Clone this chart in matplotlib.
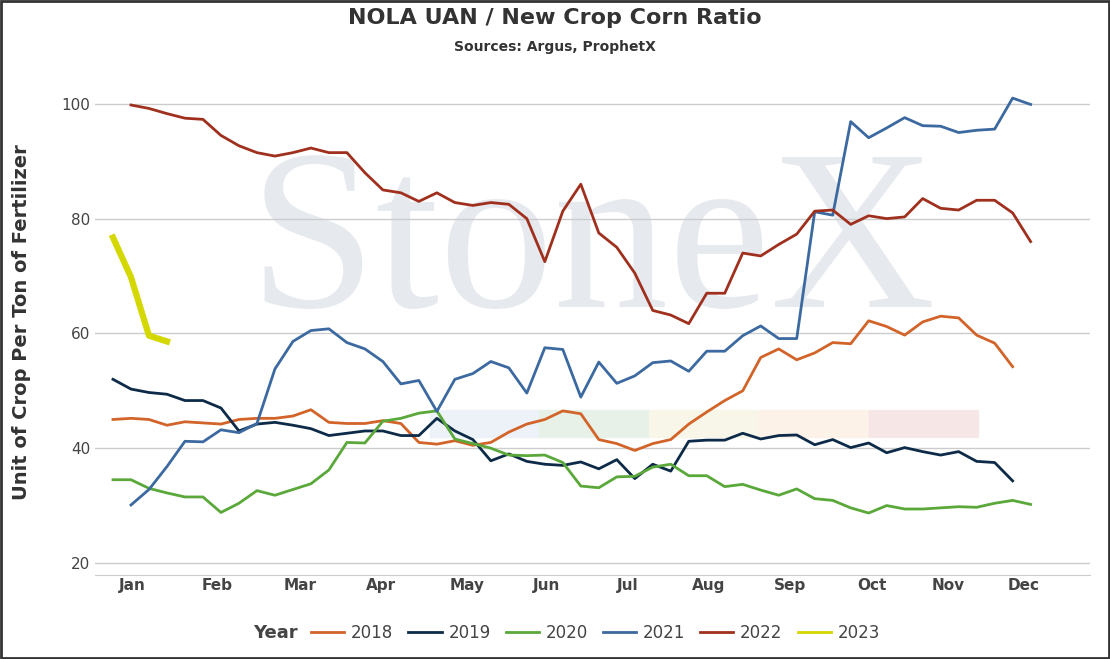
import matplotlib.pyplot as plt
import matplotlib.patches as mpatches
import numpy as np

months = ['Jan', 'Feb', 'Mar', 'Apr', 'May', 'Jun', 'Jul', 'Aug', 'Sep', 'Oct', 'Nov', 'Dec']
month_pos = [1.1, 5.8, 10.4, 14.9, 19.7, 24.1, 28.6, 33.1, 37.6, 42.2, 46.4, 50.6]

y2018 = [45, 45.2, 45, 44, 44.6, 44.4, 44.2, 45, 45.2, 45.2, 45.6, 46.7, 44.5, 44.3, 44.3, 44.8, 44.3,
         41, 40.7, 41.3, 40.5, 41, 42.8, 44.2, 45, 46.5, 46, 41.5, 40.8, 39.6, 40.8, 41.5, 44.2, 46.3,
         48.3, 50, 55.8, 57.3, 55.4, 56.6, 58.4, 58.2, 62.2, 61.2, 59.7, 62, 63, 62.7, 59.7, 58.3, 54.2]
y2019 = [52, 50.3, 49.7, 49.4, 48.3, 48.3, 47, 43, 44.2, 44.5, 44, 43.4, 42.2, 42.6, 43, 43, 42.2,
         42.2, 45.2, 43, 41.5, 37.8, 39, 37.7, 37.2, 37, 37.6, 36.4, 38, 34.7, 37.2, 36, 41.2, 41.4,
         41.4, 42.6, 41.6, 42.2, 42.3, 40.6, 41.5, 40.1, 40.9, 39.2, 40.1, 39.4, 38.8, 39.4, 37.7, 37.5, 34.3]
y2020 = [34.5, 34.5, 33, 32.2, 31.5, 31.5, 28.8, 30.4, 32.6, 31.8, 32.8, 33.8, 36.2, 41, 40.9, 44.7,
         45.2, 46.1, 46.5, 41.6, 40.8, 40, 38.8, 38.7, 38.8, 37.5, 33.4, 33.1, 35, 35.1, 36.7, 37.2,
         35.2, 35.2, 33.3, 33.7, 32.7, 31.8, 32.9, 31.2, 30.9, 29.6, 28.7, 30, 29.4, 29.4, 29.6, 29.8,
         29.7, 30.4, 30.9, 30.2]
y2021 = [30.1, 32.8, 36.8, 41.2, 41.1, 43.2, 42.7, 44.3, 53.8, 58.6, 60.5, 60.8, 58.4, 57.3, 55.1,
         51.2, 51.8, 46.4, 52, 53, 55.1, 54, 49.6, 57.5, 57.2, 48.9, 55, 51.3, 52.6, 54.9, 55.2, 53.4,
         56.9, 56.9, 59.6, 61.3, 59.1, 59.1, 81.2, 80.6, 96.9, 94.1, 95.8, 97.6, 96.2, 96.1, 95, 95.4,
         95.6, 101, 99.9]
y2022 = [99.8, 99.2, 98.3, 97.5, 97.3, 94.5, 92.7, 91.5, 90.9, 91.5, 92.3, 91.5, 91.5, 88, 85, 84.5,
         83, 84.5, 82.8, 82.3, 82.8, 82.5, 80, 72.5, 81.3, 86, 77.5, 75, 70.5, 64, 63.2, 61.7, 67, 67,
         74, 73.5, 75.5, 77.3, 81.3, 81.5, 79, 80.5, 80, 80.3, 83.5, 81.8, 81.5, 83.2, 83.2, 81, 76]
y2023 = [76.7, 69.8, 59.6, 58.6]

series = [
    ('2018', np.arange(len(y2018)), y2018, '#d2642a', 2),
    ('2019', np.arange(len(y2019)), y2019, '#0d2b48', 2),
    ('2020', np.arange(len(y2020)), y2020, '#5aa83a', 2),
    ('2021', np.arange(1, len(y2021) + 1), y2021, '#3b69a0', 2),
    ('2022', np.arange(1, len(y2022) + 1), y2022, '#a0301e', 2),
    ('2023', np.arange(len(y2023)), y2023, '#d4d700', 4.5),
]

fig = plt.figure(figsize=(11.1, 6.59), dpi=100)
ax = fig.add_axes([95 / 1110, 84 / 659, 995 / 1110, 505 / 659])

# watermark
ax.text(0.5, 0.64, 'StoneX', transform=ax.transAxes, fontsize=165, family='Liberation Serif',
        color='#e6e9ee', ha='center', va='center', zorder=0)
band_cols = ['#edf2f8', '#e8f1e8', '#f8f6e8', '#fcf2e8', '#f7e6e6']
for i, c in enumerate(band_cols):
    ax.axhspan(42, 46.7, xmin=(17.6 + i * 6.1 + 1) / 55.3, xmax=(17.6 + (i + 1) * 6.1 + 1) / 55.3,
               color=c, zorder=0.5)

handles = []
for name, x, y, c, lw in series:
    ax.plot(x, y, color=c, lw=lw, zorder=3)
    handles.append(plt.Line2D([], [], color=c, lw=2, label=name))

ax.set_xlim(-1, 54.3)
ax.set_ylim(17.9, 105.9)
ax.set_yticks([20, 40, 60, 80, 100])
ax.tick_params(axis='y', labelsize=11, colors='#444', length=0)
ax.set_xticks(month_pos)
ax.set_xticklabels(months, fontsize=11, weight='bold', color='#444')
ax.tick_params(axis='x', length=0, pad=2)
ax.grid(axis='y', color='#cccccc', lw=1)
for s in ['top', 'right', 'left']:
    ax.spines[s].set_visible(False)
ax.spines['bottom'].set_color('#cccccc')
ax.set_ylabel('Unit of Crop Per Ton of Fertilizer', fontsize=14, weight='bold', color='#333', labelpad=22)

fig.text(0.5, 0.972, 'NOLA UAN / New Crop Corn Ratio', ha='center', va='center',
         fontsize=16, weight='bold', color='#333')
fig.text(0.5, 0.928, 'Sources: Argus, ProphetX', ha='center', va='center',
         fontsize=10, weight='bold', color='#333')

fig.text(275 / 1110, 0.04, 'Year', ha='center', va='center', fontsize=13, weight='bold', color='#444')
leg = fig.legend(handles=handles, loc='center left', bbox_to_anchor=(296 / 1110, 0.04), ncol=6,
                 frameon=False, fontsize=12, handlelength=2, columnspacing=0.9, handletextpad=0.4)
for t in leg.get_texts():
    t.set_color('#444')

fig.patches.append(mpatches.Rectangle((0.001, 0.001), 0.998, 0.998, transform=fig.transFigure,
                                      fill=False, ec='#333', lw=2))
fig.savefig('out.png', dpi=100)
